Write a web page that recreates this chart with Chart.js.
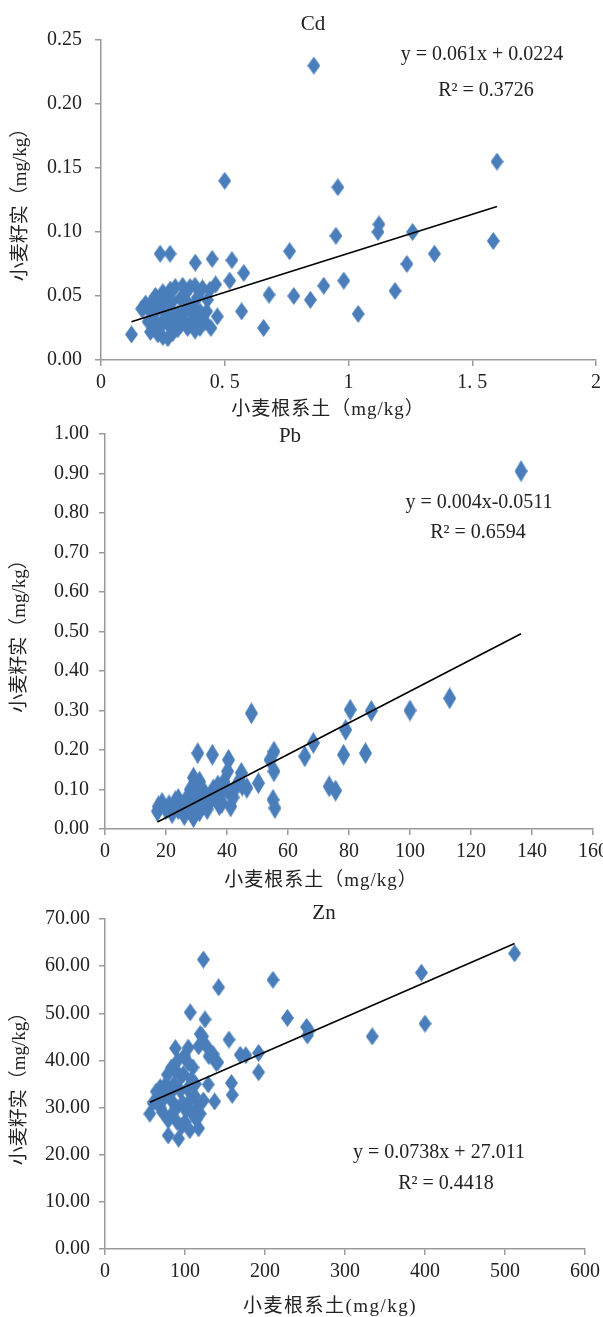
<!DOCTYPE html>
<html>
<head>
<meta charset="utf-8">
<script src="https://cdn.jsdelivr.net/npm/chart.js@4.4.1/dist/chart.umd.min.js"></script>
<style>
  html, body { margin: 0; padding: 0; background: #fff; width: 603px; height: 1317px; overflow: hidden; }
  canvas { position: absolute; left: 0; }
</style>
</head>
<body>
<canvas id="cdChart" width="603" height="425" style="top:0px"></canvas>
<canvas id="pbChart" width="603" height="468" style="top:425px"></canvas>
<canvas id="znChart" width="603" height="427" style="top:890px"></canvas>
<script>
// ---- Cd: soil (x) vs grain (y), mg/kg ----
const cdPoints = [
  [0.86,0.230],[0.50,0.140],[0.957,0.135],[1.60,0.155],[1.585,0.093],[0.949,0.097],
  [1.123,0.106],[1.119,0.100],[1.259,0.100],[1.347,0.083],[1.236,0.075],[1.188,0.054],
  [1.039,0.036],[0.981,0.062],[0.900,0.058],[0.846,0.047],[0.779,0.050],[0.762,0.085],
  [0.679,0.051],[0.657,0.025],[0.577,0.068],[0.568,0.038],[0.529,0.078],[0.520,0.062],
  [0.449,0.079],[0.381,0.076],[0.239,0.083],[0.279,0.083],[0.123,0.020],[0.164,0.040],
  [0.463,0.059],[0.427,0.038],[0.444,0.025],[0.470,0.034],[0.400,0.025],
  [0.22,0.050],[0.25,0.053],[0.28,0.055],[0.30,0.057],[0.33,0.058],[0.36,0.057],[0.38,0.058],[0.41,0.056],[0.44,0.055],
  [0.18,0.044],[0.21,0.047],[0.24,0.048],[0.27,0.050],[0.29,0.046],[0.32,0.048],[0.35,0.045],[0.39,0.049],[0.43,0.047],
  [0.17,0.040],[0.20,0.038],[0.23,0.040],[0.26,0.037],[0.28,0.040],[0.31,0.036],[0.34,0.039],[0.37,0.035],[0.40,0.038],
  [0.19,0.030],[0.22,0.028],[0.25,0.031],[0.27,0.028],[0.30,0.030],[0.33,0.032],[0.36,0.028],[0.39,0.030],[0.42,0.030],
  [0.20,0.022],[0.23,0.020],[0.25,0.018],[0.27,0.017],[0.29,0.021],[0.31,0.024],[0.35,0.025],[0.38,0.023],
  [0.21,0.034],[0.24,0.026],[0.26,0.044],[0.32,0.027],[0.34,0.052],[0.29,0.035],[0.37,0.042],[0.41,0.034]
];
const cdFit = [0.061, 0.0224];     // slope, intercept
const cdR2 = 0.3726;
const cdXTicks = ['0', '0. 5', '1', '1. 5', '2'];
const cdYTicks = ['0.00', '0.05', '0.10', '0.15', '0.20', '0.25'];

// ---- Pb ----
const pbPoints = [
  [136.4,0.906],[113,0.331],[100,0.300],[87.3,0.299],[80.4,0.302],[78.9,0.251],[78.2,0.188],
  [85.4,0.192],[68.3,0.218],[65.5,0.184],[73.5,0.108],[75.6,0.097],[48,0.293],[55.4,0.196],
  [54.1,0.175],[55.4,0.146],[55.1,0.074],[55.7,0.053],[50.3,0.116],[46.5,0.104],[44.7,0.142],
  [43,0.108],[40.5,0.175],[40.2,0.146],[35.2,0.188],[30.4,0.192],[41.2,0.057],[38.3,0.066],
  [17.5,0.057],[18.7,0.066],[17.2,0.045],
  [20,0.050],[22,0.040],[23,0.070],[24,0.076],[25,0.060],[25.5,0.045],[26,0.035],[27,0.080],
  [27.5,0.055],[28,0.100],[28.5,0.040],[29,0.130],[29,0.030],[29.5,0.110],[30,0.070],[30.5,0.090],
  [31,0.120],[31,0.045],[32,0.100],[32,0.060],[33,0.080],[33.5,0.050],[34,0.065],[35.5,0.100],
  [36,0.080],[37,0.110],[37.5,0.060],[38,0.090],[39,0.120],[42,0.080],[44,0.120],
  [21,0.060],[24,0.050],[26.5,0.065],[30,0.050],[34.5,0.085],[36.5,0.095],[40,0.100],[45,0.110]
];
const pbFit = [0.004, -0.0511];
const pbR2 = 0.6594;
const pbXTicks = ['0', '20', '40', '60', '80', '100', '120', '140', '160'];
const pbYTicks = ['0.00', '0.10', '0.20', '0.30', '0.40', '0.50', '0.60', '0.70', '0.80', '0.90', '1.00'];

// ---- Zn ----
const znPoints = [
  [512,62.7],[395.5,58.6],[400,47.8],[334,45.1],[252,47.1],[253,45.3],[255,46.3],[228,49],
  [210,57.1],[192,37.5],[192,41.6],[176,41.1],[169,41.2],[158,35.2],[159,32.7],[155,44.4],
  [142,55.5],[139,39.5],[137,31.3],[129,34.9],[123,61.4],[125,48.7],[106.5,50.2],
  [122,45.1],[117,43],[127,43],[130,40.9],[119,45.6],[135,41.4],[141,39.6],[88,42.6],[104,42.7],
  [83,38.5],[78,37],[69,34.3],[64,33.4],[56,28.7],[69,30],[79,27.3],[79,24.1],[92,23.4],
  [106,25.2],[117,25.6],[119,28.7],[106,31.5],[94,33.6],[98,37.1],[110,38.5],[113,35],
  [89.6,30],[101,29.4],[83,31.5],[123,31.5],[74,32],[86,35],[95,36.5],[103,34],[112,32.5],
  [90,27],[100,27],[85,29],[108,29],[72,29],[97,31],[115,30],[60,31],[88,38],[104,39.5],
  [76,35],[82,33],[91,40],[99,41],[108,36],[96,26],[114,27.5],[66,31.5]
];
const znFit = [0.0738, 27.011];
const znR2 = 0.4418;
const znXTicks = ['0', '100', '200', '300', '400', '500', '600'];
const znYTicks = ['0.00', '10.00', '20.00', '30.00', '40.00', '50.00', '60.00', '70.00'];

const X_TITLE = '小麦根系土（mg/kg）';
const X_TITLE_ZN = '小麦根系土(mg/kg)';
const Y_TITLE = '小麦籽实（mg/kg）';

// ---- drawing helpers ----
const MARK_COLOR = '#4a7ebb';
const AXIS_COLOR = '#9a9a9a';
const TEXT_COLOR = '#222';
const SERIF = '"Liberation Serif", "Times New Roman", "Noto Sans CJK SC", serif';

function diamond(w, h) {
  const c = document.createElement('canvas');
  c.width = w; c.height = h;
  const g = c.getContext('2d');
  g.fillStyle = MARK_COLOR;
  g.beginPath();
  g.moveTo(w / 2, 0); g.lineTo(w, h / 2); g.lineTo(w / 2, h); g.lineTo(0, h / 2);
  g.closePath(); g.fill();
  return c;
}

function equationText(fit) {
  const [a, b] = fit;
  return b < 0 ? `y = ${a}x-${Math.abs(b)}` : `y = ${a}x + ${b}`;
}

// free text (panel title, axis caption, equation) drawn on top of the plot
const notesPlugin = {
  id: 'notes',
  afterDatasetsDraw(chart, args, opts) {
    const ctx = chart.ctx;
    (opts.items || []).forEach(it => {
      ctx.save();
      ctx.font = it.font;
      ctx.fillStyle = TEXT_COLOR;
      ctx.textAlign = 'center';
      ctx.textBaseline = 'middle';
      if (it.spacing) ctx.letterSpacing = it.spacing;
      ctx.fillText(it.text, it.x, it.y);
      ctx.restore();
    });
  }
};

function buildChart(id, p) {
  const pts = p.points.map(([x, y]) => ({ x, y }));
  const xs = p.points.map(d => d[0]);
  const x0 = Math.min(...xs), x1 = Math.max(...xs);
  const fitLine = [x0, x1].map(x => ({ x, y: p.fit[0] * x + p.fit[1] }));

  return new Chart(document.getElementById(id), {
    type: 'scatter',
    data: {
      datasets: [
        { data: fitLine, showLine: true, borderColor: '#000', borderWidth: 1.6,
          pointRadius: 0, order: 0, clip: false },
        { data: pts, pointStyle: diamond(p.mark[0], p.mark[1]), pointRadius: 6,
          order: 1, clip: false }
      ]
    },
    options: {
      responsive: false,
      animation: false,
      events: [],
      layout: { padding: p.pad },
      plugins: {
        legend: { display: false },
        tooltip: { enabled: false },
        notes: { items: p.notes }
      },
      scales: {
        x: {
          type: 'linear', min: p.xRange[0], max: p.xRange[1],
          border: { display: true, color: AXIS_COLOR, width: 1.5 },
          grid: { drawOnChartArea: false, drawTicks: true, tickLength: 6, color: AXIS_COLOR, lineWidth: 1.5 },
          ticks: {
            stepSize: p.xStep, padding: 5, color: TEXT_COLOR, maxRotation: 0, autoSkip: false,
            font: { family: SERIF, size: 20 },
            callback: (v, i) => p.xTicks[i]
          },
          afterFit: s => { s.height = p.xHeight; s.paddingLeft = 0; s.paddingRight = 0; }
        },
        y: {
          type: 'linear', min: p.yRange[0], max: p.yRange[1],
          border: { display: true, color: AXIS_COLOR, width: 1.5 },
          grid: { drawOnChartArea: false, drawTicks: true, tickLength: 6, color: AXIS_COLOR, lineWidth: 1.5 },
          ticks: {
            stepSize: p.yStep, padding: p.yTickPad, color: TEXT_COLOR, autoSkip: false,
            font: { family: SERIF, size: 20 },
            callback: (v, i) => p.yTicks[i]
          },
          title: { display: true, text: Y_TITLE, color: TEXT_COLOR,
                   font: { family: SERIF, size: 19 }, padding: { top: p.yTitlePad, bottom: 0 } },
          afterFit: s => { s.width = p.yWidth; s.paddingTop = 0; s.paddingBottom = 0; }
        }
      }
    },
    plugins: [notesPlugin]
  });
}

const eqFont = '20px ' + SERIF;
const headFont = '21px ' + SERIF;
const capFont = '19px ' + SERIF;

buildChart('cdChart', {
  points: cdPoints, fit: cdFit, mark: [13, 18],
  xRange: [0, 2], xStep: 0.5, xTicks: cdXTicks,
  yRange: [0, 0.25], yStep: 0.05, yTicks: cdYTicks,
  xHeight: 65,
  yWidth: 101, yTickPad: 13, yTitlePad: 10,
  pad: { left: 0, right: 3, top: 40, bottom: 0 },
  notes: [
    { text: 'Cd', x: 313, y: 24, font: headFont },
    { text: equationText(cdFit), x: 482, y: 55, font: eqFont },
    { text: 'R² = ' + cdR2, x: 486, y: 91, font: eqFont },
    { text: X_TITLE, x: 328, y: 410, font: capFont, spacing: '1px' }
  ]
});

buildChart('pbChart', {
  points: pbPoints, fit: pbFit, mark: [13, 22],
  xRange: [0, 160], xStep: 20, xTicks: pbXTicks,
  yRange: [0, 1], yStep: 0.1, yTicks: pbYTicks,
  xHeight: 64,
  yWidth: 105, yTickPad: 10, yTitlePad: 9,
  pad: { left: 0, right: 10, top: 9, bottom: 0 },
  notes: [
    { text: 'Pb', x: 290, y: 11, font: headFont },
    { text: equationText(pbFit), x: 479, y: 78, font: eqFont },
    { text: 'R² = ' + pbR2, x: 478, y: 108, font: eqFont },
    { text: X_TITLE, x: 321, y: 456, font: capFont, spacing: '1px' }
  ]
});

buildChart('znChart', {
  points: znPoints, fit: znFit, mark: [13, 18],
  xRange: [0, 600], xStep: 100, xTicks: znXTicks,
  yRange: [0, 70], yStep: 10, yTicks: znYTicks,
  xHeight: 68,
  yWidth: 105, yTickPad: 9, yTitlePad: 9,
  pad: { left: 0, right: 18, top: 29, bottom: 0 },
  notes: [
    { text: 'Zn', x: 324, y: 23, font: headFont },
    { text: equationText(znFit), x: 439, y: 263, font: eqFont },
    { text: 'R² = ' + znR2, x: 446, y: 294, font: eqFont },
    { text: X_TITLE_ZN, x: 330, y: 417, font: capFont, spacing: '1.5px' }
  ]
});
</script>
</body>
</html>
